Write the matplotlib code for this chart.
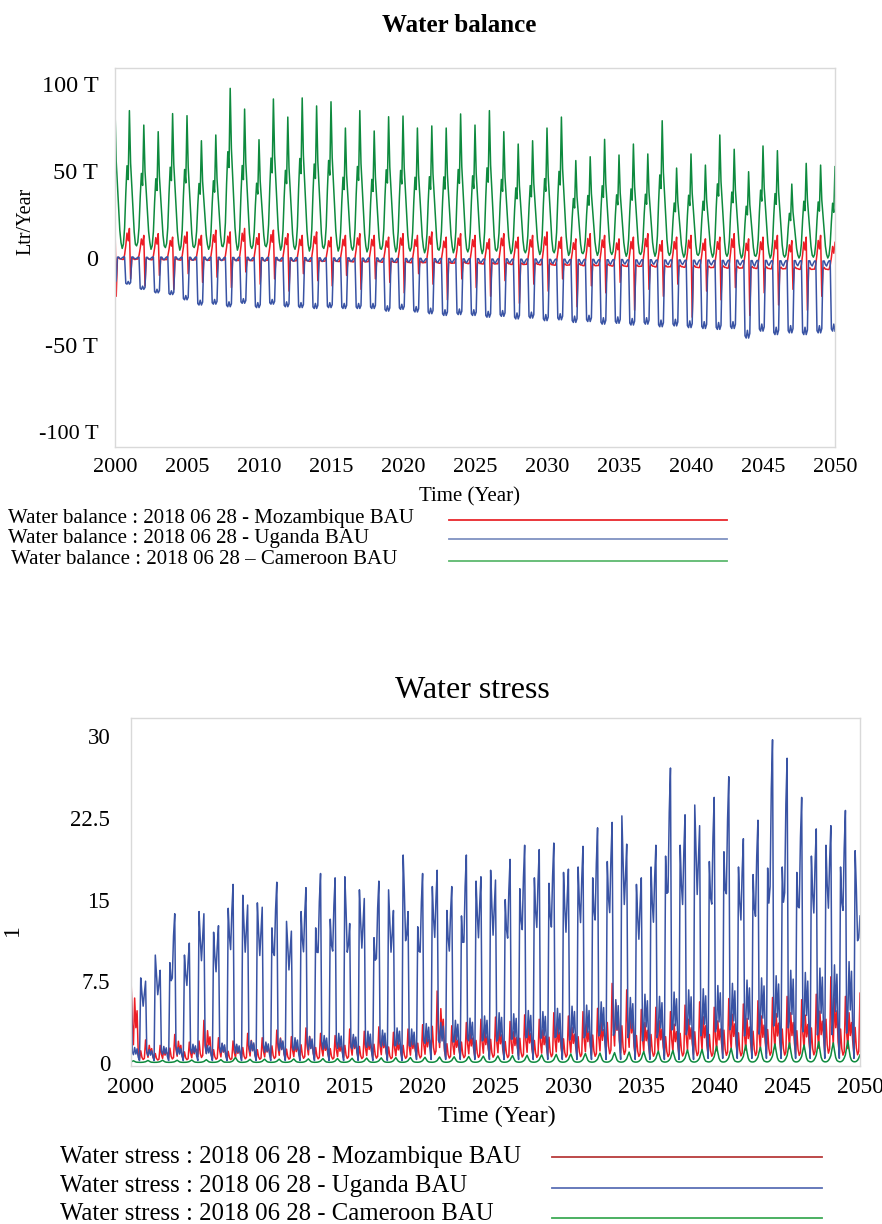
import numpy as np
import matplotlib
matplotlib.use("Agg")
import matplotlib.pyplot as plt
from matplotlib.lines import Line2D

plt.rcParams['font.family'] = ['Liberation Serif', 'DejaVu Serif']

# ------------------------------------------------------------------
# Monthly simulation 2000-2050.  Values are read per seasonal cycle
# (cycle Y = Jul of Y-1 .. Jun of Y, wet peak around Dec/Jan of Y).
# ------------------------------------------------------------------
cycles = list(range(2000, 2051))
months_in_cycle = ["Jul", "Aug", "Sep", "Oct", "Nov", "Dec",
                   "Jan", "Feb", "Mar", "Apr", "May", "Jun"]

# ---------------- Water balance (T = 10^12 Ltr/Year) ----------------
cam_wb_peak = [85.6, 84.7, 76.4, 72.6, 83.0, 81.8, 67.4, 70.7, 97.5, 85.6,
               68.0, 91.4, 81.0, 92.0, 87.4, 89.8, 74.7, 84.7, 73.0, 81.2,
               81.6, 74.7, 75.9, 74.7, 82.8, 76.4, 84.7, 72.6, 65.5, 67.4,
               74.7, 81.0, 56.0, 58.2, 68.2, 59.2, 65.5, 59.8, 78.9, 51.7,
               59.8, 53.4, 70.7, 62.5, 49.6, 64.4, 61.7, 42.5, 54.4, 53.4,
               52.5]
cam_wb_trough = [6.5, 5.5, 7.0, 5.0, 6.0, 4.5, 6.0, 5.0, 6.5, 4.5,
                 5.5, 6.5, 4.5, 5.0, 4.0, 5.5, 4.0, 4.5, 3.5, 5.0,
                 3.5, 4.0, 3.0, 4.5, 3.0, 3.5, 2.5, 4.0, 2.5, 3.0,
                 2.0, 3.0, 1.5, 2.5, 1.5, 2.0, 1.0, 2.0, 1.0, 1.5,
                 0.5, 1.5, 0.5, 1.0, 0.0, 1.0, 0.0, 0.5, 0.0, 0.5,
                 0.0]
cam_wb_shape = [0.0, 0.03, 0.15, 0.40, 0.60, 0.50, 1.0, 0.62, 0.45, 0.28, 0.12, 0.03]

uga_wb_high = [0.5, 0.6, 0.4, 0.5, 0.6, 0.4, 0.5, 0.4, 0.3, 0.4,
               0.2, 0.3, 0.1, 0.2, 0.1, 0.0, 0.1, -0.1, 0.0, -0.2,
               -0.3, -0.2, -0.4, -0.3, -0.5, -0.4, -0.6, -0.5, -0.7, -0.6,
               -0.8, -0.7, -0.9, -0.8, -1.0, -0.9, -1.1, -1.0, -1.2, -1.1,
               -1.3, -1.2, -1.4, -1.3, -1.5, -1.4, -1.6, -1.5, -1.6, -1.7,
               -1.6]
uga_wb_low = [-14.0, -15.0, -18.0, -20.0, -21.0, -24.0, -27.0, -26.5, -28.0, -26.0,
              -28.5, -26.5, -28.0, -28.5, -29.0, -28.5, -29.0, -29.0, -29.0, -30.5,
              -29.5, -31.0, -32.0, -33.0, -32.5, -33.0, -34.0, -33.5, -35.0, -34.5,
              -36.0, -35.5, -37.0, -36.5, -38.0, -37.5, -38.5, -38.0, -39.5, -39.0,
              -40.0, -40.5, -41.0, -40.5, -46.0, -42.0, -44.0, -43.0, -44.0, -43.0,
              -42.0]
uga_wb_shape = [0.03, 0.0, 0.0, 0.97, 1.0, 0.90, 1.0, 0.94, 0.0, 0.0, 0.05, 0.07]

moz_wb_peak = [18.0, 17.0, 13.0, 14.0, 12.0, 15.0, 13.0, 16.0, 15.0, 17.0,
               14.0, 16.0, 14.0, 13.0, 15.0, 12.0, 13.0, 14.0, 13.0, 12.0,
               14.0, 13.0, 15.0, 12.0, 14.0, 13.0, 11.0, 14.0, 12.0, 13.0,
               15.0, 12.0, 11.0, 14.0, 13.0, 11.0, 12.0, 14.0, 10.0, 12.0,
               13.0, 11.0, 12.0, 14.0, 11.0, 12.0, 13.0, 10.0, 12.0, 13.0,
               9.0]
moz_wb_dip = [-22.0, -12.0, -16.0, -10.0, -18.0, -9.0, -14.0, -11.0, -17.0, -8.0,
              -15.0, -12.0, -19.0, -9.0, -13.0, -16.0, -10.0, -18.0, -12.0, -14.0,
              -20.0, -9.0, -15.0, -24.0, -12.0, -17.0, -22.0, -13.0, -26.0, -15.0,
              -19.0, -12.0, -28.0, -16.0, -20.0, -14.0, -30.0, -18.0, -22.0, -15.0,
              -34.0, -19.0, -24.0, -17.0, -33.0, -20.0, -27.0, -18.0, -30.0, -22.0,
              -20.0]
moz_wb_base = [-0.5, -0.8, -0.6, -1.0, -0.9, -1.2, -1.0, -1.3, -1.1, -1.4,
               -1.5, -1.3, -1.7, -1.6, -1.9, -1.8, -2.0, -2.2, -2.1, -2.4,
               -2.5, -2.7, -2.6, -3.0, -2.9, -3.2, -3.4, -3.3, -3.7, -3.6,
               -3.9, -4.1, -4.0, -4.4, -4.3, -4.6, -4.8, -4.7, -5.1, -5.0,
               -5.3, -5.5, -5.4, -5.8, -5.7, -6.0, -6.2, -6.1, -6.5, -6.4,
               -6.6]
moz_wb_peak_shape = [0.0, 0.0, 0.15, 0.45, 0.85, 0.60, 1.0, 0.0, 0.0, 0.05, 0.0, 0.0]
moz_wb_dip_shape = [0.0, 0.0, 0.0, 0.0, 0.0, 0.0, 0.0, 1.0, 0.0, 0.0, 0.0, 0.0]

# ---------------- Water stress (dimensionless) ----------------
# Uganda: each cycle has a pair of sharp spikes (first ~Sep, second ~Jan)
uga_ws_first = [4.0, 7.8, 9.9, 9.2, 9.9, 13.9, 12.0, 14.2, 15.4, 14.7,
                12.4, 13.0, 13.9, 12.4, 13.2, 17.1, 15.9, 11.5, 15.9, 19.1,
                12.5, 16.2, 14.0, 13.5, 16.7, 17.7, 15.0, 16.0, 17.0, 16.5,
                17.5, 18.0, 17.0, 18.5, 22.7, 16.4, 18.0, 19.0, 20.0, 23.7,
                18.5, 19.4, 18.0, 17.3, 17.9, 18.0, 17.5, 19.0, 20.0, 18.0,
                19.5]
uga_ws_second = [8.2, 7.5, 8.5, 13.7, 11.0, 13.7, 12.6, 16.4, 14.5, 14.3,
                 16.6, 12.1, 16.1, 17.4, 17.0, 12.8, 15.1, 16.7, 14.0, 13.9,
                 17.4, 17.7, 16.2, 19.1, 17.1, 16.8, 18.7, 20.0, 19.6, 20.2,
                 17.8, 19.9, 21.6, 22.1, 20.1, 17.0, 20.0, 27.1, 22.8, 21.8,
                 24.4, 26.3, 20.6, 22.3, 29.7, 28.0, 24.4, 21.5, 21.8, 23.2,
                 13.5]
uga_ws_hump = [1.2, 1.0, 1.3, 1.2, 1.5, 1.4, 1.6, 1.5, 1.8, 1.7,
               2.0, 2.1, 2.2, 2.3, 2.5, 2.4, 2.7, 2.8, 3.0, 2.9,
               3.3, 3.4, 3.6, 3.8, 4.0, 4.3, 4.2, 4.5, 4.4, 4.7,
               4.9, 5.0, 5.3, 5.5, 5.7, 6.0, 5.8, 6.2, 6.4, 6.5,
               6.7, 6.9, 7.2, 7.4, 7.6, 8.1, 7.9, 8.3, 8.6, 8.9,
               8.9]
uga_ws_base = [0.2] * 20 + [0.3] * 20 + [0.4] * 11
uga_ws_w_first = [0.0, 0.0, 1.0, 0.82, 0.34, 0.0, 0.0, 0.0, 0.0, 0.0, 0.0, 0.0]
uga_ws_w_second = [0.0, 0.0, 0.0, 0.0, 0.34, 0.85, 1.0, 0.10, 0.0, 0.0, 0.0, 0.0]
uga_ws_w_hump = [0.30, 0.0, 0.0, 0.0, 0.0, 0.0, 0.0, 0.0, 0.45, 1.0, 0.50, 0.90]
uga_ws_w_base = [1.0, 1.0, 0.0, 0.0, 0.0, 0.0, 0.0, 1.0, 1.0, 1.0, 1.0, 1.0]

moz_ws_peak = [7.8, 2.0, 1.5, 2.5, 1.8, 3.8, 2.2, 1.9, 2.6, 2.2,
               2.9, 2.3, 3.1, 2.6, 2.4, 3.0, 2.8, 3.2, 2.7, 3.0,
               3.4, 6.5, 3.3, 3.6, 3.9, 4.1, 3.7, 4.3, 3.9, 4.5,
               4.2, 4.6, 4.9, 7.2, 6.6, 4.8, 5.0, 4.6, 5.2, 5.5,
               5.0, 5.8, 5.3, 5.6, 5.9, 6.0, 5.7, 6.2, 7.8, 6.0,
               6.3]
moz_ws_shape = [0.30, 0.12, 0.50, 0.20, 0.10, 0.15, 1.0, 0.45, 0.20, 0.75, 0.40, 0.60]
moz_ws_base = 0.1

cam_ws_peak = [0.15, 0.18, 0.2, 0.2, 0.22, 0.25, 0.25, 0.45, 0.28, 0.3,
               0.3, 0.32, 0.33, 0.35, 0.36, 0.38, 0.4, 0.42, 0.44, 0.45,
               0.47, 0.5, 0.52, 0.55, 0.58, 0.6, 0.63, 0.66, 0.7, 0.74,
               0.78, 0.82, 0.86, 0.9, 0.95, 1.0, 1.05, 1.1, 1.15, 1.2,
               1.5, 1.3, 1.6, 1.4, 1.7, 1.8, 1.6, 1.9, 1.8, 2.0,
               2.0]
cam_ws_shape = [0.05, 0.03, 0.03, 0.05, 0.10, 0.20, 0.35, 0.70, 1.0, 0.60, 0.25, 0.10]
cam_ws_base = 0.03

# ------------------------------------------------------------------
k = np.arange(601)                 # Jan 2000 .. Jan 2050, monthly
t = 2000 + k / 12.0
ci = (k + 6) // 12                 # cycle index
mi = (k + 6) % 12                  # month inside cycle (0 = Jul)


def A(x):
    return np.asarray(x, dtype=float)


cam_wb = A(cam_wb_trough)[ci] + (A(cam_wb_peak)[ci] - A(cam_wb_trough)[ci]) * A(cam_wb_shape)[mi]
uga_wb = A(uga_wb_high)[ci] + (A(uga_wb_low)[ci] - A(uga_wb_high)[ci]) * A(uga_wb_shape)[mi]
moz_wb = (A(moz_wb_base)[ci]
          + (A(moz_wb_peak)[ci] - A(moz_wb_base)[ci]) * A(moz_wb_peak_shape)[mi]
          + (A(moz_wb_dip)[ci] - A(moz_wb_base)[ci]) * A(moz_wb_dip_shape)[mi])

uga_ws = (A(uga_ws_first)[ci] * A(uga_ws_w_first)[mi]
          + A(uga_ws_second)[ci] * A(uga_ws_w_second)[mi]
          + A(uga_ws_hump)[ci] * A(uga_ws_w_hump)[mi]
          + A(uga_ws_base)[ci] * A(uga_ws_w_base)[mi])
moz_ws = moz_ws_base + A(moz_ws_peak)[ci] * A(moz_ws_shape)[mi]
cam_ws = cam_ws_base + A(cam_ws_peak)[ci] * A(cam_ws_shape)[mi]

RED = '#ED1C24'
BLUE = '#3953A4'
GREEN = '#0E8A3E'
FRAME = '#D9D9D9'

W, H = 882, 1224
fig = plt.figure(figsize=(W / 100, H / 100), dpi=100)


def fx(x):
    return x / W


def fy(y):
    return 1 - y / H


# ---------------- top chart ----------------
ax1 = fig.add_axes([fx(115), fy(447), fx(835) - fx(115), fy(68) - fy(447)])
ax1.plot(t, moz_wb, color=RED, lw=1.1)
ax1.plot(t, uga_wb, color=BLUE, lw=1.1)
ax1.plot(t, cam_wb, color=GREEN, lw=1.1)
ax1.set_xlim(2000, 2050)
ax1.set_ylim(-108.6, 109.2)
ax1.set_xticks(list(range(2000, 2051, 5)))
ax1.set_xticklabels([str(y) for y in range(2000, 2051, 5)], fontsize=16)
ax1.set_yticks([100, 50, 0, -50, -100])
ax1.set_yticklabels(["100 T", "50 T", "0", "-50 T", "-100 T"], fontsize=17.5)
ax1.get_yticklabels()[-1].set_fontsize(16)
ax1.tick_params(axis='both', length=0)
ax1.tick_params(axis='y', pad=12)
ax1.tick_params(axis='x', pad=8)
for s in ax1.spines.values():
    s.set_color(FRAME)
    s.set_linewidth(1.0)

fig.text(fx(459), fy(25), "Water balance", ha='center', va='center',
         fontsize=18, fontweight='bold')
fig.text(fx(470), fy(497), "Time (Year)", ha='center', va='center', fontsize=15)
fig.text(fx(26), fy(221), "Ltr/Year", ha='center', va='center', rotation=90, fontsize=14.5)

top_labels = ["Water balance : 2018 06 28 - Mozambique BAU",
              "Water balance : 2018 06 28 - Uganda BAU",
              "Water balance : 2018 06 28 \u2013 Cameroon BAU"]
top_rows = [518, 539, 560]
top_lines_y = [520, 539, 561]
top_xstart = [8, 8, 11]
top_leg_colors = ['#E8262C', '#7F92C2', '#5DB96E']
for lab, ry, ly, xs, c in zip(top_labels, top_rows, top_lines_y, top_xstart, top_leg_colors):
    fig.text(fx(xs), fy(ry), lab, ha='left', va='center', fontsize=15)
    fig.add_artist(Line2D([fx(449), fx(727)], [fy(ly), fy(ly)], color=c, lw=1.3,
                          transform=fig.transFigure))

# ---------------- bottom chart ----------------
ax2 = fig.add_axes([fx(131), fy(1066), fx(860) - fx(131), fy(718) - fy(1066)])
ax2.plot(t, moz_ws, color=RED, lw=1.1)
ax2.plot(t, uga_ws, color=BLUE, lw=1.1)
ax2.plot(t, cam_ws, color=GREEN, lw=1.1)
ax2.set_xlim(2000, 2050)
ax2.set_ylim(-0.3, 31.7)
ax2.set_xticks(list(range(2000, 2051, 5)))
ax2.set_xticklabels([str(y) for y in range(2000, 2051, 5)], fontsize=17)
ax2.set_yticks([0, 7.5, 15, 22.5, 30])
ax2.set_yticklabels(["0", "7.5", "15", "22.5", "30"], fontsize=16.5)
ax2.tick_params(axis='both', length=0)
ax2.tick_params(axis='y', pad=15)
ax2.tick_params(axis='x', pad=8)
for s in ax2.spines.values():
    s.set_color(FRAME)
    s.set_linewidth(1.0)

fig.text(fx(472), fy(691), "Water stress", ha='center', va='center', fontsize=23)
fig.text(fx(497), fy(1116), "Time (Year)", ha='center', va='center', fontsize=17.5)
fig.text(fx(12), fy(930), "1", ha='center', va='center', rotation=90, fontsize=17)

bot_labels = ["Water stress : 2018 06 28 - Mozambique BAU",
              "Water stress : 2018 06 28 - Uganda BAU",
              "Water stress : 2018 06 28 - Cameroon BAU"]
bot_rows = [1157, 1186, 1214]
bot_lines_y = [1157, 1188, 1218]
bot_leg_colors = ['#B83A3A', '#5A70B5', '#3DAA55']
for lab, ry, ly, c in zip(bot_labels, bot_rows, bot_lines_y, bot_leg_colors):
    fig.text(fx(60), fy(ry), lab, ha='left', va='center', fontsize=17.8)
    fig.add_artist(Line2D([fx(552), fx(822)], [fy(ly), fy(ly)], color=c, lw=1.3,
                          transform=fig.transFigure))

fig.savefig("out.png", dpi=100)
